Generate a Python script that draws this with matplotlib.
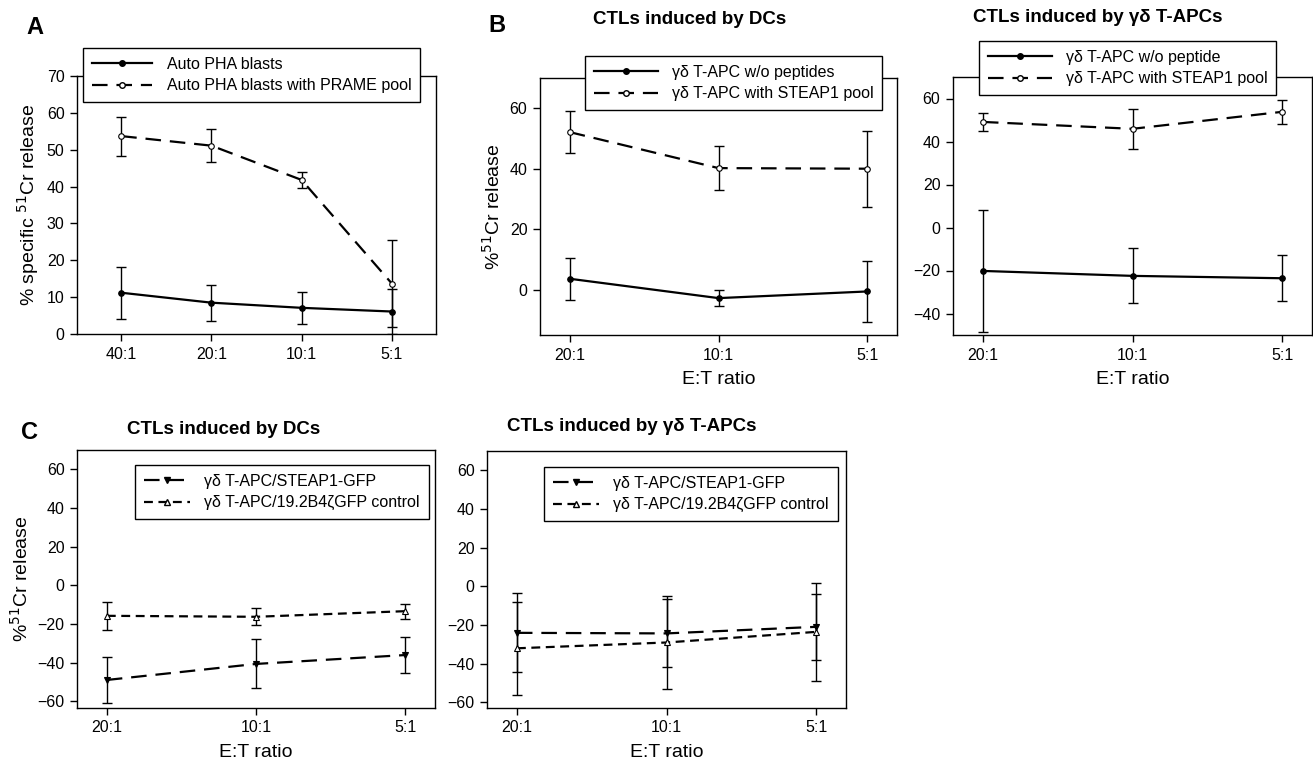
import matplotlib
matplotlib.use("Agg")
import matplotlib.pyplot as plt
from matplotlib.lines import Line2D

plt.rcParams['font.family'] = ['Liberation Sans', 'DejaVu Sans']

# ---------------- data ----------------
ratios_A = ["40:1", "20:1", "10:1", "5:1"]
A_auto = [11.2, 8.5, 7.1, 6.1]
A_auto_err = [7.0, 4.9, 4.4, 6.0]
A_prame = [53.7, 51.1, 41.8, 13.7]
A_prame_err = [5.3, 4.5, 2.1, 11.8]

ratios_B = ["20:1", "10:1", "5:1"]
B1_nopep = [3.6, -2.8, -0.6]
B1_nopep_err = [7.0, 2.7, 10.0]
B1_steap = [52.1, 40.2, 40.0]
B1_steap_err = [7.0, 7.4, 12.6]

B2_nopep = [-20.2, -22.5, -23.6]
B2_nopep_err = [28.4, 12.8, 10.8]
B2_steap = [49.1, 45.9, 53.8]
B2_steap_err = [4.2, 9.2, 5.6]

C1_steap = [-49.0, -40.7, -36.1]
C1_steap_err = [12.0, 12.7, 9.3]
C1_ctrl = [-15.8, -16.3, -13.4]
C1_ctrl_err = [7.3, 4.4, 3.9]

C2_steap = [-24.1, -24.4, -21.0]
C2_steap_err = [20.5, 17.6, 17.2]
C2_ctrl = [-32.1, -29.1, -23.6]
C2_ctrl_err = [24.2, 24.2, 25.2]

# ---------------- figure ----------------
W, H = 1313, 766
fig = plt.figure(figsize=(W / 100, H / 100), dpi=100)


def add_ax(l, r, t, b):
    return fig.add_axes([l / W, 1 - b / H, (r - l) / W, (b - t) / H])


def style(ax, ticks, ylim, yticks, xlim):
    ax.set_xlim(*xlim)
    ax.set_ylim(*ylim)
    ax.set_xticks(range(len(ticks)))
    ax.set_xticklabels(ticks)
    ax.set_yticks(yticks)
    ax.tick_params(direction='out', length=5, width=1, labelsize=11.5,
                   top=False, right=False, pad=4)
    for s in ax.spines.values():
        s.set_linewidth(1.0)


def plot_series(ax, y, err, ls, marker, mfc, lw=1.6, ms=4.5):
    x = list(range(len(y)))
    ax.errorbar(x, y, yerr=err, fmt='none', ecolor='black', elinewidth=1.0,
                capsize=3.5, capthick=1.0, zorder=2)
    ax.plot(x, y, color='black', linestyle=ls, linewidth=lw, marker=marker,
            markerfacecolor=mfc, markeredgecolor='black', markersize=ms,
            markeredgewidth=0.8, zorder=3)


def legend_at(ax, handles, labels, left, top, fs=11.5, hl=3.6, htp=0.9):
    leg = ax.legend(handles, labels, loc='upper left',
                    bbox_to_anchor=(left / W, 1 - top / H),
                    bbox_transform=fig.transFigure, borderaxespad=0,
                    fancybox=False, edgecolor='black', framealpha=1,
                    fontsize=fs, handlelength=hl, handletextpad=htp,
                    labelspacing=0.4, borderpad=0.55, numpoints=1)
    leg.get_frame().set_linewidth(1.0)
    return leg


dash_long = (0, (7, 4))
dash_short = (0, (4, 2.5))

# ---------------- Panel A ----------------
axA = add_ax(77, 436, 76, 334)
plot_series(axA, A_auto, A_auto_err, '-', 'o', 'black', ms=4)
plot_series(axA, A_prame, A_prame_err, dash_long, 'o', 'white', ms=4)
style(axA, ratios_A, (0, 70), range(0, 71, 10), (-0.49, 3.49))
axA.set_ylabel("% specific $^{51}$Cr release", fontsize=14, labelpad=4)
hA = [Line2D([], [], color='black', ls='-', lw=1.6, marker='o', ms=4, mfc='black'),
      Line2D([], [], color='black', ls=dash_long, lw=1.6, marker='o', ms=4, mfc='white')]
legend_at(axA, hA, ["Auto PHA blasts", "Auto PHA blasts with PRAME pool"], 83, 48, hl=3.8)
fig.text(35 / W, 1 - 27 / H, "A", fontsize=17, fontweight='bold', ha='center', va='center')

# ---------------- Panel B (DCs) ----------------
axB1 = add_ax(540, 897, 78, 335)
plot_series(axB1, B1_nopep, B1_nopep_err, '-', 'o', 'black', ms=4)
plot_series(axB1, B1_steap, B1_steap_err, dash_long, 'o', 'white', ms=4)
style(axB1, ratios_B, (-15, 70), [0, 20, 40, 60], (-0.2, 2.2))
axB1.set_ylabel("%$^{51}$Cr release", fontsize=14, labelpad=4)
axB1.set_xlabel("E:T ratio", fontsize=14, labelpad=6)
hB = [Line2D([], [], color='black', ls='-', lw=1.6, marker='o', ms=4, mfc='black'),
      Line2D([], [], color='black', ls=dash_long, lw=1.6, marker='o', ms=4, mfc='white')]
legend_at(axB1, hB, ["γδ T-APC w/o peptides", "γδ T-APC with STEAP1 pool"], 585, 56, hl=4.0)
fig.text(690 / W, 1 - 20 / H, "CTLs induced by DCs", fontsize=13.5, fontweight='bold',
         ha='center', va='center')
fig.text(497 / W, 1 - 26 / H, "B", fontsize=17, fontweight='bold', ha='center', va='center')

# ---------------- Panel B (γδ T-APCs) ----------------
axB2 = add_ax(953, 1312, 77, 335)
plot_series(axB2, B2_nopep, B2_nopep_err, '-', 'o', 'black', ms=4)
plot_series(axB2, B2_steap, B2_steap_err, dash_long, 'o', 'white', ms=4)
style(axB2, ratios_B, (-50, 70), [-40, -20, 0, 20, 40, 60], (-0.2, 2.2))
axB2.set_xlabel("E:T ratio", fontsize=14, labelpad=6)
legend_at(axB2, hB, ["γδ T-APC w/o peptide", "γδ T-APC with STEAP1 pool"], 979, 41, hl=4.0)
fig.text(1098 / W, 1 - 18 / H, "CTLs induced by γδ T-APCs", fontsize=13.5, fontweight='bold',
         ha='center', va='center')

# ---------------- Panel C (DCs) ----------------
hC = [Line2D([], [], color='black', ls=dash_long, lw=1.6, marker='v', ms=5, mfc='black'),
      Line2D([], [], color='black', ls=dash_short, lw=1.6, marker='^', ms=4.5, mfc='white')]
labC = ["γδ T-APC/STEAP1-GFP", "γδ T-APC/19.2B4ζGFP control"]

axC1 = add_ax(77, 435, 450, 708)
plot_series(axC1, C1_ctrl, C1_ctrl_err, dash_short, '^', 'white', ms=4.5)
plot_series(axC1, C1_steap, C1_steap_err, dash_long, 'v', 'black', ms=5)
style(axC1, ratios_B, (-63.5, 70), range(-60, 61, 20), (-0.2, 2.2))
axC1.set_ylabel("%$^{51}$Cr release", fontsize=14, labelpad=4)
axC1.set_xlabel("E:T ratio", fontsize=14, labelpad=6)
legend_at(axC1, hC, labC, 135, 465, hl=2.9)
fig.text(224 / W, 1 - 429 / H, "CTLs induced by DCs", fontsize=13.5, fontweight='bold',
         ha='center', va='center')
fig.text(29 / W, 1 - 432 / H, "C", fontsize=17, fontweight='bold', ha='center', va='center')

# ---------------- Panel C (γδ T-APCs) ----------------
axC2 = add_ax(487, 846, 451, 708)
plot_series(axC2, C2_ctrl, C2_ctrl_err, dash_short, '^', 'white', ms=4.5)
plot_series(axC2, C2_steap, C2_steap_err, dash_long, 'v', 'black', ms=5)
style(axC2, ratios_B, (-63, 70), range(-60, 61, 20), (-0.2, 2.2))
axC2.set_xlabel("E:T ratio", fontsize=14, labelpad=6)
legend_at(axC2, hC, labC, 544, 467, hl=2.9)
fig.text(632 / W, 1 - 427 / H, "CTLs induced by γδ T-APCs", fontsize=13.5, fontweight='bold',
         ha='center', va='center')

fig.savefig("out.png", dpi=100)
